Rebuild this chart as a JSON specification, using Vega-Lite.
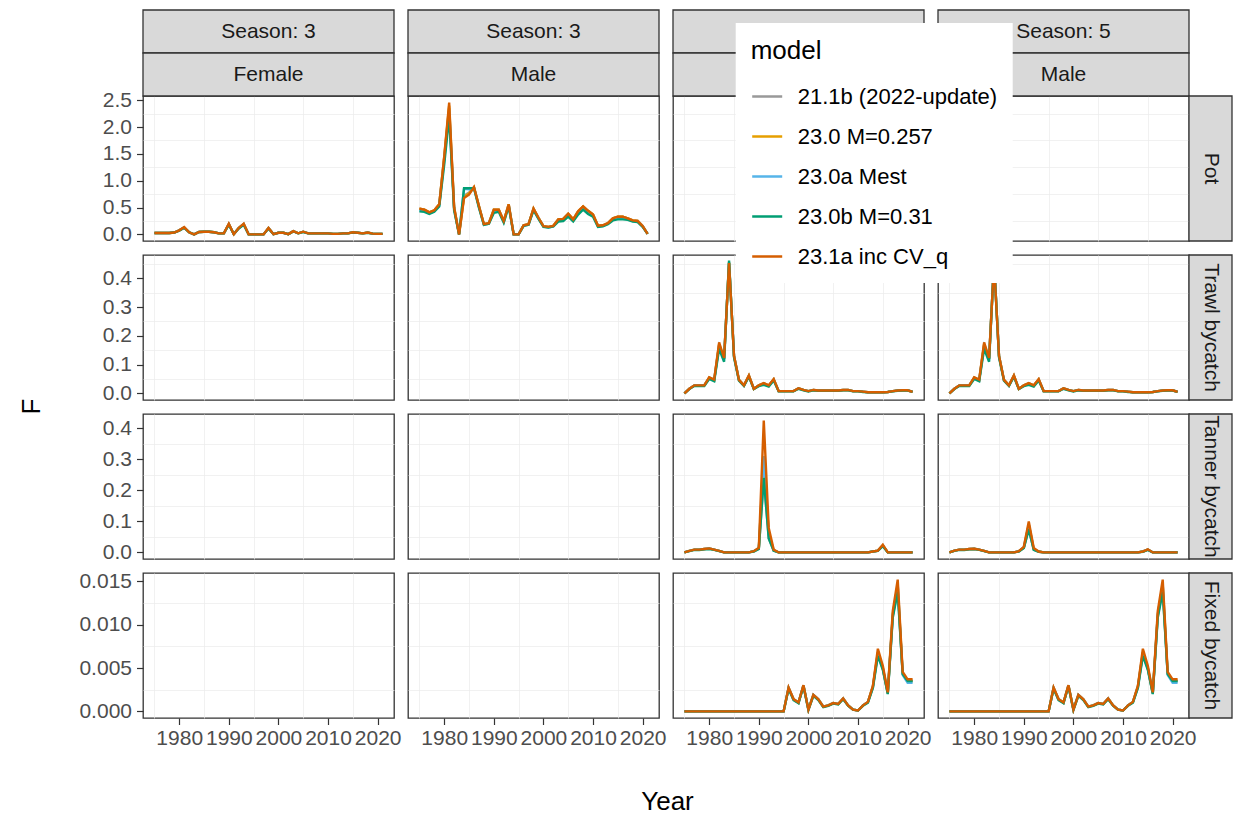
{
"$schema": "https://vega.github.io/schema/vega-lite/v6.json",
"background": "white",
"padding": {"left": 17, "top": 8, "right": 2, "bottom": 2},
"autosize": {"type": "pad"},
"config": {
  "font": "Liberation Sans",
  "view": {"stroke": "#333333", "strokeWidth": 1.3, "fill": "white"},
  "axis": {"domain": false, "gridColor": "#EBEBEB", "labelFontSize": 21, "labelColor": "#4D4D4D", "tickColor": "#333333", "tickSize": 6.5, "tickWidth": 1.2, "labelFont": "Liberation Sans"},
  "axisX": {"labelPadding": 3},
  "axisY": {"labelPadding": 5},
  "range": {"category": ["#999999", "#E69F00", "#56B4E9", "#009E73", "#D55E00"]},
  "legend": {"orient": "none", "legendX": 592.7, "legendY": -73, "fillColor": "#FFFFFF", "padding": 15, "titleFontSize": 26, "titleFontWeight": "normal", "titleColor": "#000000", "titlePadding": 16, "labelFontSize": 22, "labelColor": "#000000", "labelOffset": 14, "labelLimit": 400, "symbolType": "stroke", "symbolSize": 900, "symbolStrokeWidth": 2.5, "rowPadding": 12}
},
"datasets": {
  "models": [{"k":"a","model":"21.1b (2022-update)"},{"k":"b","model":"23.0 M=0.257"},{"k":"c","model":"23.0a Mest"},{"k":"d","model":"23.0b M=0.31"},{"k":"e","model":"23.1a inc CV_q"}],
  "empty": [],
  "s3f_pot": [
    {"x":1975,"a":0.025,"b":0.025,"c":0.025,"d":0.025,"e":0.025},
    {"x":1976,"a":0.025,"b":0.025,"c":0.025,"d":0.025,"e":0.025},
    {"x":1977,"a":0.025,"b":0.025,"c":0.025,"d":0.025,"e":0.025},
    {"x":1978,"a":0.025,"b":0.025,"c":0.025,"d":0.025,"e":0.025},
    {"x":1979,"a":0.035,"b":0.035,"c":0.035,"d":0.035,"e":0.035},
    {"x":1980,"a":0.075,"b":0.075,"c":0.075,"d":0.07,"e":0.075},
    {"x":1981,"a":0.13,"b":0.13,"c":0.13,"d":0.12,"e":0.135},
    {"x":1982,"a":0.04,"b":0.04,"c":0.04,"d":0.04,"e":0.04},
    {"x":1983,"a":0,"b":0,"c":0,"d":0,"e":0},
    {"x":1984,"a":0.045,"b":0.045,"c":0.045,"d":0.045,"e":0.045},
    {"x":1985,"a":0.05,"b":0.05,"c":0.05,"d":0.05,"e":0.05},
    {"x":1986,"a":0.05,"b":0.05,"c":0.05,"d":0.05,"e":0.05},
    {"x":1987,"a":0.04,"b":0.04,"c":0.04,"d":0.04,"e":0.04},
    {"x":1988,"a":0.02,"b":0.02,"c":0.02,"d":0.02,"e":0.02},
    {"x":1989,"a":0.02,"b":0.02,"c":0.02,"d":0.02,"e":0.02},
    {"x":1990,"a":0.19,"b":0.19,"c":0.19,"d":0.18,"e":0.2},
    {"x":1991,"a":0.005,"b":0.005,"c":0.005,"d":0.005,"e":0.005},
    {"x":1992,"a":0.12,"b":0.12,"c":0.115,"d":0.11,"e":0.12},
    {"x":1993,"a":0.19,"b":0.19,"c":0.19,"d":0.18,"e":0.2},
    {"x":1994,"a":0,"b":0,"c":0,"d":0,"e":0},
    {"x":1995,"a":0,"b":0,"c":0,"d":0,"e":0},
    {"x":1996,"a":0,"b":0,"c":0,"d":0,"e":0},
    {"x":1997,"a":0,"b":0,"c":0,"d":0,"e":0},
    {"x":1998,"a":0.12,"b":0.12,"c":0.115,"d":0.11,"e":0.12},
    {"x":1999,"a":0.005,"b":0.005,"c":0.005,"d":0.005,"e":0.005},
    {"x":2000,"a":0.03,"b":0.03,"c":0.03,"d":0.03,"e":0.03},
    {"x":2001,"a":0.03,"b":0.03,"c":0.03,"d":0.03,"e":0.03},
    {"x":2002,"a":0.005,"b":0.005,"c":0.005,"d":0.005,"e":0.005},
    {"x":2003,"a":0.06,"b":0.06,"c":0.06,"d":0.055,"e":0.06},
    {"x":2004,"a":0.02,"b":0.02,"c":0.02,"d":0.02,"e":0.02},
    {"x":2005,"a":0.05,"b":0.05,"c":0.05,"d":0.045,"e":0.05},
    {"x":2006,"a":0.02,"b":0.02,"c":0.02,"d":0.02,"e":0.02},
    {"x":2007,"a":0.02,"b":0.02,"c":0.02,"d":0.02,"e":0.02},
    {"x":2008,"a":0.02,"b":0.02,"c":0.02,"d":0.02,"e":0.02},
    {"x":2009,"a":0.02,"b":0.02,"c":0.02,"d":0.02,"e":0.02},
    {"x":2010,"a":0.02,"b":0.02,"c":0.02,"d":0.02,"e":0.02},
    {"x":2011,"a":0.01,"b":0.01,"c":0.01,"d":0.01,"e":0.01},
    {"x":2012,"a":0.01,"b":0.01,"c":0.01,"d":0.01,"e":0.01},
    {"x":2013,"a":0.02,"b":0.02,"c":0.02,"d":0.02,"e":0.02},
    {"x":2014,"a":0.02,"b":0.02,"c":0.02,"d":0.02,"e":0.02},
    {"x":2015,"a":0.04,"b":0.04,"c":0.04,"d":0.035,"e":0.04},
    {"x":2016,"a":0.03,"b":0.03,"c":0.03,"d":0.03,"e":0.03},
    {"x":2017,"a":0.02,"b":0.02,"c":0.02,"d":0.02,"e":0.02},
    {"x":2018,"a":0.035,"b":0.035,"c":0.035,"d":0.03,"e":0.035},
    {"x":2019,"a":0.015,"b":0.015,"c":0.015,"d":0.015,"e":0.015},
    {"x":2020,"a":0.01,"b":0.01,"c":0.01,"d":0.01,"e":0.01},
    {"x":2021,"a":0.01,"b":0.01,"c":0.01,"d":0.01,"e":0.01}
  ],
  "s3m_pot": [
    {"x":1975,"a":0.48,"b":0.48,"c":0.45,"d":0.43,"e":0.48},
    {"x":1976,"a":0.46,"b":0.46,"c":0.44,"d":0.42,"e":0.46},
    {"x":1977,"a":0.41,"b":0.41,"c":0.39,"d":0.38,"e":0.41},
    {"x":1978,"a":0.45,"b":0.45,"c":0.43,"d":0.42,"e":0.45},
    {"x":1979,"a":0.56,"b":0.56,"c":0.54,"d":0.52,"e":0.56},
    {"x":1980,"a":1.42,"b":1.44,"c":1.38,"d":1.3,"e":1.45},
    {"x":1981,"a":2.35,"b":2.4,"c":2.3,"d":2.2,"e":2.455},
    {"x":1982,"a":0.5,"b":0.5,"c":0.47,"d":0.45,"e":0.5},
    {"x":1983,"a":0,"b":0,"c":0,"d":0,"e":0},
    {"x":1984,"a":0.72,"b":0.7,"c":0.85,"d":0.86,"e":0.68},
    {"x":1985,"a":0.78,"b":0.76,"c":0.84,"d":0.86,"e":0.74},
    {"x":1986,"a":0.88,"b":0.88,"c":0.87,"d":0.86,"e":0.88},
    {"x":1987,"a":0.53,"b":0.53,"c":0.51,"d":0.5,"e":0.53},
    {"x":1988,"a":0.19,"b":0.19,"c":0.18,"d":0.18,"e":0.19},
    {"x":1989,"a":0.21,"b":0.21,"c":0.2,"d":0.2,"e":0.21},
    {"x":1990,"a":0.46,"b":0.46,"c":0.43,"d":0.4,"e":0.46},
    {"x":1991,"a":0.46,"b":0.46,"c":0.44,"d":0.42,"e":0.46},
    {"x":1992,"a":0.25,"b":0.25,"c":0.23,"d":0.22,"e":0.25},
    {"x":1993,"a":0.56,"b":0.56,"c":0.54,"d":0.52,"e":0.56},
    {"x":1994,"a":0,"b":0,"c":0,"d":0,"e":0},
    {"x":1995,"a":0,"b":0,"c":0,"d":0,"e":0},
    {"x":1996,"a":0.17,"b":0.17,"c":0.16,"d":0.16,"e":0.17},
    {"x":1997,"a":0.19,"b":0.19,"c":0.18,"d":0.18,"e":0.19},
    {"x":1998,"a":0.48,"b":0.48,"c":0.46,"d":0.45,"e":0.48},
    {"x":1999,"a":0.31,"b":0.31,"c":0.3,"d":0.29,"e":0.31},
    {"x":2000,"a":0.155,"b":0.155,"c":0.15,"d":0.14,"e":0.155},
    {"x":2001,"a":0.14,"b":0.14,"c":0.13,"d":0.13,"e":0.14},
    {"x":2002,"a":0.16,"b":0.16,"c":0.15,"d":0.15,"e":0.16},
    {"x":2003,"a":0.28,"b":0.28,"c":0.26,"d":0.24,"e":0.28},
    {"x":2004,"a":0.29,"b":0.29,"c":0.27,"d":0.25,"e":0.29},
    {"x":2005,"a":0.385,"b":0.385,"c":0.36,"d":0.33,"e":0.385},
    {"x":2006,"a":0.28,"b":0.28,"c":0.26,"d":0.24,"e":0.28},
    {"x":2007,"a":0.43,"b":0.43,"c":0.4,"d":0.37,"e":0.43},
    {"x":2008,"a":0.52,"b":0.52,"c":0.49,"d":0.46,"e":0.52},
    {"x":2009,"a":0.44,"b":0.44,"c":0.41,"d":0.38,"e":0.44},
    {"x":2010,"a":0.37,"b":0.37,"c":0.35,"d":0.33,"e":0.37},
    {"x":2011,"a":0.16,"b":0.16,"c":0.15,"d":0.14,"e":0.16},
    {"x":2012,"a":0.17,"b":0.17,"c":0.16,"d":0.15,"e":0.17},
    {"x":2013,"a":0.21,"b":0.21,"c":0.2,"d":0.19,"e":0.21},
    {"x":2014,"a":0.3,"b":0.3,"c":0.28,"d":0.26,"e":0.3},
    {"x":2015,"a":0.33,"b":0.33,"c":0.3,"d":0.28,"e":0.33},
    {"x":2016,"a":0.33,"b":0.33,"c":0.3,"d":0.28,"e":0.33},
    {"x":2017,"a":0.3,"b":0.3,"c":0.28,"d":0.27,"e":0.3},
    {"x":2018,"a":0.26,"b":0.26,"c":0.25,"d":0.24,"e":0.26},
    {"x":2019,"a":0.25,"b":0.25,"c":0.24,"d":0.23,"e":0.25},
    {"x":2020,"a":0.155,"b":0.155,"c":0.15,"d":0.14,"e":0.155},
    {"x":2021,"a":0.01,"b":0.01,"c":0.01,"d":0.01,"e":0.01}
  ],
  "s5f_trawl": [
    {"x":1975,"a":0,"b":0,"c":0,"d":0,"e":0},
    {"x":1976,"a":0.016,"b":0.016,"c":0.016,"d":0.015,"e":0.016},
    {"x":1977,"a":0.028,"b":0.028,"c":0.028,"d":0.026,"e":0.028},
    {"x":1978,"a":0.028,"b":0.028,"c":0.028,"d":0.026,"e":0.028},
    {"x":1979,"a":0.028,"b":0.028,"c":0.028,"d":0.026,"e":0.028},
    {"x":1980,"a":0.055,"b":0.055,"c":0.053,"d":0.05,"e":0.056},
    {"x":1981,"a":0.046,"b":0.046,"c":0.045,"d":0.042,"e":0.048},
    {"x":1982,"a":0.17,"b":0.17,"c":0.165,"d":0.155,"e":0.177},
    {"x":1983,"a":0.12,"b":0.12,"c":0.12,"d":0.11,"e":0.123},
    {"x":1984,"a":0.455,"b":0.455,"c":0.455,"d":0.462,"e":0.453},
    {"x":1985,"a":0.13,"b":0.13,"c":0.13,"d":0.125,"e":0.131},
    {"x":1986,"a":0.047,"b":0.047,"c":0.046,"d":0.044,"e":0.047},
    {"x":1987,"a":0.028,"b":0.028,"c":0.027,"d":0.026,"e":0.028},
    {"x":1988,"a":0.062,"b":0.062,"c":0.06,"d":0.058,"e":0.062},
    {"x":1989,"a":0.016,"b":0.016,"c":0.016,"d":0.015,"e":0.016},
    {"x":1990,"a":0.028,"b":0.028,"c":0.027,"d":0.025,"e":0.028},
    {"x":1991,"a":0.035,"b":0.035,"c":0.033,"d":0.03,"e":0.036},
    {"x":1992,"a":0.027,"b":0.027,"c":0.026,"d":0.024,"e":0.028},
    {"x":1993,"a":0.049,"b":0.049,"c":0.047,"d":0.045,"e":0.05},
    {"x":1994,"a":0.008,"b":0.008,"c":0.008,"d":0.007,"e":0.008},
    {"x":1995,"a":0.008,"b":0.008,"c":0.008,"d":0.007,"e":0.008},
    {"x":1996,"a":0.008,"b":0.008,"c":0.008,"d":0.007,"e":0.008},
    {"x":1997,"a":0.008,"b":0.008,"c":0.008,"d":0.007,"e":0.008},
    {"x":1998,"a":0.018,"b":0.018,"c":0.017,"d":0.016,"e":0.018},
    {"x":1999,"a":0.012,"b":0.012,"c":0.012,"d":0.011,"e":0.012},
    {"x":2000,"a":0.008,"b":0.008,"c":0.008,"d":0.007,"e":0.008},
    {"x":2001,"a":0.012,"b":0.012,"c":0.012,"d":0.011,"e":0.012},
    {"x":2002,"a":0.01,"b":0.01,"c":0.01,"d":0.009,"e":0.01},
    {"x":2003,"a":0.01,"b":0.01,"c":0.01,"d":0.009,"e":0.01},
    {"x":2004,"a":0.01,"b":0.01,"c":0.01,"d":0.009,"e":0.01},
    {"x":2005,"a":0.01,"b":0.01,"c":0.01,"d":0.009,"e":0.01},
    {"x":2006,"a":0.01,"b":0.01,"c":0.01,"d":0.009,"e":0.01},
    {"x":2007,"a":0.012,"b":0.012,"c":0.012,"d":0.011,"e":0.012},
    {"x":2008,"a":0.012,"b":0.012,"c":0.012,"d":0.011,"e":0.012},
    {"x":2009,"a":0.008,"b":0.008,"c":0.008,"d":0.007,"e":0.008},
    {"x":2010,"a":0.008,"b":0.008,"c":0.008,"d":0.007,"e":0.008},
    {"x":2011,"a":0.006,"b":0.006,"c":0.006,"d":0.005,"e":0.006},
    {"x":2012,"a":0.004,"b":0.004,"c":0.004,"d":0.004,"e":0.004},
    {"x":2013,"a":0.004,"b":0.004,"c":0.004,"d":0.004,"e":0.004},
    {"x":2014,"a":0.004,"b":0.004,"c":0.004,"d":0.004,"e":0.004},
    {"x":2015,"a":0.004,"b":0.004,"c":0.004,"d":0.004,"e":0.004},
    {"x":2016,"a":0.005,"b":0.005,"c":0.005,"d":0.005,"e":0.005},
    {"x":2017,"a":0.008,"b":0.008,"c":0.008,"d":0.007,"e":0.008},
    {"x":2018,"a":0.01,"b":0.01,"c":0.01,"d":0.009,"e":0.01},
    {"x":2019,"a":0.011,"b":0.011,"c":0.011,"d":0.01,"e":0.011},
    {"x":2020,"a":0.011,"b":0.011,"c":0.011,"d":0.01,"e":0.011},
    {"x":2021,"a":0.005,"b":0.005,"c":0.005,"d":0.005,"e":0.005}
  ],
  "s5m_trawl": [
    {"x":1975,"a":0,"b":0,"c":0,"d":0,"e":0},
    {"x":1976,"a":0.016,"b":0.016,"c":0.016,"d":0.015,"e":0.016},
    {"x":1977,"a":0.028,"b":0.028,"c":0.028,"d":0.026,"e":0.028},
    {"x":1978,"a":0.028,"b":0.028,"c":0.028,"d":0.026,"e":0.028},
    {"x":1979,"a":0.028,"b":0.028,"c":0.028,"d":0.026,"e":0.028},
    {"x":1980,"a":0.055,"b":0.055,"c":0.053,"d":0.05,"e":0.056},
    {"x":1981,"a":0.046,"b":0.046,"c":0.045,"d":0.042,"e":0.048},
    {"x":1982,"a":0.17,"b":0.17,"c":0.165,"d":0.155,"e":0.177},
    {"x":1983,"a":0.12,"b":0.12,"c":0.12,"d":0.11,"e":0.123},
    {"x":1984,"a":0.455,"b":0.455,"c":0.455,"d":0.462,"e":0.453},
    {"x":1985,"a":0.13,"b":0.13,"c":0.13,"d":0.125,"e":0.131},
    {"x":1986,"a":0.047,"b":0.047,"c":0.046,"d":0.044,"e":0.047},
    {"x":1987,"a":0.028,"b":0.028,"c":0.027,"d":0.026,"e":0.028},
    {"x":1988,"a":0.062,"b":0.062,"c":0.06,"d":0.058,"e":0.062},
    {"x":1989,"a":0.016,"b":0.016,"c":0.016,"d":0.015,"e":0.016},
    {"x":1990,"a":0.028,"b":0.028,"c":0.027,"d":0.025,"e":0.028},
    {"x":1991,"a":0.035,"b":0.035,"c":0.033,"d":0.03,"e":0.036},
    {"x":1992,"a":0.027,"b":0.027,"c":0.026,"d":0.024,"e":0.028},
    {"x":1993,"a":0.049,"b":0.049,"c":0.047,"d":0.045,"e":0.05},
    {"x":1994,"a":0.008,"b":0.008,"c":0.008,"d":0.007,"e":0.008},
    {"x":1995,"a":0.008,"b":0.008,"c":0.008,"d":0.007,"e":0.008},
    {"x":1996,"a":0.008,"b":0.008,"c":0.008,"d":0.007,"e":0.008},
    {"x":1997,"a":0.008,"b":0.008,"c":0.008,"d":0.007,"e":0.008},
    {"x":1998,"a":0.018,"b":0.018,"c":0.017,"d":0.016,"e":0.018},
    {"x":1999,"a":0.012,"b":0.012,"c":0.012,"d":0.011,"e":0.012},
    {"x":2000,"a":0.008,"b":0.008,"c":0.008,"d":0.007,"e":0.008},
    {"x":2001,"a":0.012,"b":0.012,"c":0.012,"d":0.011,"e":0.012},
    {"x":2002,"a":0.01,"b":0.01,"c":0.01,"d":0.009,"e":0.01},
    {"x":2003,"a":0.01,"b":0.01,"c":0.01,"d":0.009,"e":0.01},
    {"x":2004,"a":0.01,"b":0.01,"c":0.01,"d":0.009,"e":0.01},
    {"x":2005,"a":0.01,"b":0.01,"c":0.01,"d":0.009,"e":0.01},
    {"x":2006,"a":0.01,"b":0.01,"c":0.01,"d":0.009,"e":0.01},
    {"x":2007,"a":0.012,"b":0.012,"c":0.012,"d":0.011,"e":0.012},
    {"x":2008,"a":0.012,"b":0.012,"c":0.012,"d":0.011,"e":0.012},
    {"x":2009,"a":0.008,"b":0.008,"c":0.008,"d":0.007,"e":0.008},
    {"x":2010,"a":0.008,"b":0.008,"c":0.008,"d":0.007,"e":0.008},
    {"x":2011,"a":0.006,"b":0.006,"c":0.006,"d":0.005,"e":0.006},
    {"x":2012,"a":0.004,"b":0.004,"c":0.004,"d":0.004,"e":0.004},
    {"x":2013,"a":0.004,"b":0.004,"c":0.004,"d":0.004,"e":0.004},
    {"x":2014,"a":0.004,"b":0.004,"c":0.004,"d":0.004,"e":0.004},
    {"x":2015,"a":0.004,"b":0.004,"c":0.004,"d":0.004,"e":0.004},
    {"x":2016,"a":0.005,"b":0.005,"c":0.005,"d":0.005,"e":0.005},
    {"x":2017,"a":0.008,"b":0.008,"c":0.008,"d":0.007,"e":0.008},
    {"x":2018,"a":0.01,"b":0.01,"c":0.01,"d":0.009,"e":0.01},
    {"x":2019,"a":0.011,"b":0.011,"c":0.011,"d":0.01,"e":0.011},
    {"x":2020,"a":0.011,"b":0.011,"c":0.011,"d":0.01,"e":0.011},
    {"x":2021,"a":0.005,"b":0.005,"c":0.005,"d":0.005,"e":0.005}
  ],
  "s5f_tanner": [
    {"x":1975,"a":0,"b":0,"c":0,"d":0,"e":0},
    {"x":1976,"a":0.005,"b":0.005,"c":0.005,"d":0.004,"e":0.005},
    {"x":1977,"a":0.009,"b":0.009,"c":0.009,"d":0.008,"e":0.009},
    {"x":1978,"a":0.009,"b":0.009,"c":0.009,"d":0.008,"e":0.009},
    {"x":1979,"a":0.011,"b":0.011,"c":0.011,"d":0.01,"e":0.011},
    {"x":1980,"a":0.013,"b":0.013,"c":0.013,"d":0.011,"e":0.013},
    {"x":1981,"a":0.009,"b":0.009,"c":0.009,"d":0.008,"e":0.009},
    {"x":1982,"a":0.005,"b":0.005,"c":0.005,"d":0.004,"e":0.005},
    {"x":1983,"a":0,"b":0,"c":0,"d":0,"e":0},
    {"x":1984,"a":0,"b":0,"c":0,"d":0,"e":0},
    {"x":1985,"a":0,"b":0,"c":0,"d":0,"e":0},
    {"x":1986,"a":0,"b":0,"c":0,"d":0,"e":0},
    {"x":1987,"a":0,"b":0,"c":0,"d":0,"e":0},
    {"x":1988,"a":0,"b":0,"c":0,"d":0,"e":0},
    {"x":1989,"a":0.004,"b":0.004,"c":0.004,"d":0.003,"e":0.004},
    {"x":1990,"a":0.012,"b":0.013,"c":0.013,"d":0.011,"e":0.015},
    {"x":1991,"a":0.24,"b":0.31,"c":0.31,"d":0.24,"e":0.425},
    {"x":1992,"a":0.045,"b":0.06,"c":0.06,"d":0.045,"e":0.079},
    {"x":1993,"a":0.006,"b":0.007,"c":0.007,"d":0.005,"e":0.009},
    {"x":1994,"a":0,"b":0,"c":0,"d":0,"e":0},
    {"x":1995,"a":0,"b":0,"c":0,"d":0,"e":0},
    {"x":1996,"a":0,"b":0,"c":0,"d":0,"e":0},
    {"x":1997,"a":0,"b":0,"c":0,"d":0,"e":0},
    {"x":1998,"a":0,"b":0,"c":0,"d":0,"e":0},
    {"x":1999,"a":0,"b":0,"c":0,"d":0,"e":0},
    {"x":2000,"a":0,"b":0,"c":0,"d":0,"e":0},
    {"x":2001,"a":0,"b":0,"c":0,"d":0,"e":0},
    {"x":2002,"a":0,"b":0,"c":0,"d":0,"e":0},
    {"x":2003,"a":0,"b":0,"c":0,"d":0,"e":0},
    {"x":2004,"a":0,"b":0,"c":0,"d":0,"e":0},
    {"x":2005,"a":0,"b":0,"c":0,"d":0,"e":0},
    {"x":2006,"a":0,"b":0,"c":0,"d":0,"e":0},
    {"x":2007,"a":0,"b":0,"c":0,"d":0,"e":0},
    {"x":2008,"a":0,"b":0,"c":0,"d":0,"e":0},
    {"x":2009,"a":0,"b":0,"c":0,"d":0,"e":0},
    {"x":2010,"a":0,"b":0,"c":0,"d":0,"e":0},
    {"x":2011,"a":0,"b":0,"c":0,"d":0,"e":0},
    {"x":2012,"a":0,"b":0,"c":0,"d":0,"e":0},
    {"x":2013,"a":0.003,"b":0.003,"c":0.003,"d":0.003,"e":0.003},
    {"x":2014,"a":0.006,"b":0.006,"c":0.006,"d":0.005,"e":0.006},
    {"x":2015,"a":0.022,"b":0.023,"c":0.023,"d":0.02,"e":0.025},
    {"x":2016,"a":0,"b":0,"c":0,"d":0,"e":0},
    {"x":2017,"a":0,"b":0,"c":0,"d":0,"e":0},
    {"x":2018,"a":0,"b":0,"c":0,"d":0,"e":0},
    {"x":2019,"a":0,"b":0,"c":0,"d":0,"e":0},
    {"x":2020,"a":0,"b":0,"c":0,"d":0,"e":0},
    {"x":2021,"a":0,"b":0,"c":0,"d":0,"e":0}
  ],
  "s5m_tanner": [
    {"x":1975,"a":0,"b":0,"c":0,"d":0,"e":0},
    {"x":1976,"a":0.006,"b":0.006,"c":0.006,"d":0.005,"e":0.006},
    {"x":1977,"a":0.009,"b":0.009,"c":0.009,"d":0.008,"e":0.009},
    {"x":1978,"a":0.009,"b":0.009,"c":0.009,"d":0.008,"e":0.009},
    {"x":1979,"a":0.011,"b":0.011,"c":0.011,"d":0.01,"e":0.011},
    {"x":1980,"a":0.012,"b":0.012,"c":0.012,"d":0.011,"e":0.012},
    {"x":1981,"a":0.009,"b":0.009,"c":0.009,"d":0.008,"e":0.009},
    {"x":1982,"a":0.005,"b":0.005,"c":0.005,"d":0.004,"e":0.005},
    {"x":1983,"a":0,"b":0,"c":0,"d":0,"e":0},
    {"x":1984,"a":0,"b":0,"c":0,"d":0,"e":0},
    {"x":1985,"a":0,"b":0,"c":0,"d":0,"e":0},
    {"x":1986,"a":0,"b":0,"c":0,"d":0,"e":0},
    {"x":1987,"a":0,"b":0,"c":0,"d":0,"e":0},
    {"x":1988,"a":0,"b":0,"c":0,"d":0,"e":0},
    {"x":1989,"a":0.004,"b":0.004,"c":0.004,"d":0.003,"e":0.004},
    {"x":1990,"a":0.015,"b":0.016,"c":0.016,"d":0.014,"e":0.018},
    {"x":1991,"a":0.075,"b":0.09,"c":0.09,"d":0.075,"e":0.1},
    {"x":1992,"a":0.009,"b":0.011,"c":0.011,"d":0.008,"e":0.014},
    {"x":1993,"a":0.002,"b":0.003,"c":0.003,"d":0.002,"e":0.003},
    {"x":1994,"a":0,"b":0,"c":0,"d":0,"e":0},
    {"x":1995,"a":0,"b":0,"c":0,"d":0,"e":0},
    {"x":1996,"a":0,"b":0,"c":0,"d":0,"e":0},
    {"x":1997,"a":0,"b":0,"c":0,"d":0,"e":0},
    {"x":1998,"a":0,"b":0,"c":0,"d":0,"e":0},
    {"x":1999,"a":0,"b":0,"c":0,"d":0,"e":0},
    {"x":2000,"a":0,"b":0,"c":0,"d":0,"e":0},
    {"x":2001,"a":0,"b":0,"c":0,"d":0,"e":0},
    {"x":2002,"a":0,"b":0,"c":0,"d":0,"e":0},
    {"x":2003,"a":0,"b":0,"c":0,"d":0,"e":0},
    {"x":2004,"a":0,"b":0,"c":0,"d":0,"e":0},
    {"x":2005,"a":0,"b":0,"c":0,"d":0,"e":0},
    {"x":2006,"a":0,"b":0,"c":0,"d":0,"e":0},
    {"x":2007,"a":0,"b":0,"c":0,"d":0,"e":0},
    {"x":2008,"a":0,"b":0,"c":0,"d":0,"e":0},
    {"x":2009,"a":0,"b":0,"c":0,"d":0,"e":0},
    {"x":2010,"a":0,"b":0,"c":0,"d":0,"e":0},
    {"x":2011,"a":0,"b":0,"c":0,"d":0,"e":0},
    {"x":2012,"a":0,"b":0,"c":0,"d":0,"e":0},
    {"x":2013,"a":0,"b":0,"c":0,"d":0,"e":0},
    {"x":2014,"a":0.003,"b":0.003,"c":0.003,"d":0.002,"e":0.003},
    {"x":2015,"a":0.009,"b":0.009,"c":0.009,"d":0.008,"e":0.01},
    {"x":2016,"a":0,"b":0,"c":0,"d":0,"e":0},
    {"x":2017,"a":0,"b":0,"c":0,"d":0,"e":0},
    {"x":2018,"a":0,"b":0,"c":0,"d":0,"e":0},
    {"x":2019,"a":0,"b":0,"c":0,"d":0,"e":0},
    {"x":2020,"a":0,"b":0,"c":0,"d":0,"e":0},
    {"x":2021,"a":0,"b":0,"c":0,"d":0,"e":0}
  ],
  "s5f_fixed": [
    {"x":1975,"a":0,"b":0,"c":0,"d":0,"e":0},
    {"x":1976,"a":0,"b":0,"c":0,"d":0,"e":0},
    {"x":1977,"a":0,"b":0,"c":0,"d":0,"e":0},
    {"x":1978,"a":0,"b":0,"c":0,"d":0,"e":0},
    {"x":1979,"a":0,"b":0,"c":0,"d":0,"e":0},
    {"x":1980,"a":0,"b":0,"c":0,"d":0,"e":0},
    {"x":1981,"a":0,"b":0,"c":0,"d":0,"e":0},
    {"x":1982,"a":0,"b":0,"c":0,"d":0,"e":0},
    {"x":1983,"a":0,"b":0,"c":0,"d":0,"e":0},
    {"x":1984,"a":0,"b":0,"c":0,"d":0,"e":0},
    {"x":1985,"a":0,"b":0,"c":0,"d":0,"e":0},
    {"x":1986,"a":0,"b":0,"c":0,"d":0,"e":0},
    {"x":1987,"a":0,"b":0,"c":0,"d":0,"e":0},
    {"x":1988,"a":0,"b":0,"c":0,"d":0,"e":0},
    {"x":1989,"a":0,"b":0,"c":0,"d":0,"e":0},
    {"x":1990,"a":0,"b":0,"c":0,"d":0,"e":0},
    {"x":1991,"a":0,"b":0,"c":0,"d":0,"e":0},
    {"x":1992,"a":0,"b":0,"c":0,"d":0,"e":0},
    {"x":1993,"a":0,"b":0,"c":0,"d":0,"e":0},
    {"x":1994,"a":0,"b":0,"c":0,"d":0,"e":0},
    {"x":1995,"a":0,"b":0,"c":0,"d":0,"e":0},
    {"x":1996,"a":0.0027,"b":0.0027,"c":0.0027,"d":0.0026,"e":0.00276},
    {"x":1997,"a":0.0014,"b":0.0014,"c":0.0014,"d":0.0013,"e":0.00142},
    {"x":1998,"a":0.001,"b":0.001,"c":0.001,"d":0.00095,"e":0.00104},
    {"x":1999,"a":0.003,"b":0.003,"c":0.003,"d":0.0029,"e":0.00303},
    {"x":2000,"a":0.0002,"b":0.0002,"c":0.0002,"d":0.0002,"e":0.0002},
    {"x":2001,"a":0.0019,"b":0.0019,"c":0.0019,"d":0.0018,"e":0.0019},
    {"x":2002,"a":0.0014,"b":0.0014,"c":0.0014,"d":0.0013,"e":0.0014},
    {"x":2003,"a":0.00054,"b":0.00054,"c":0.00054,"d":0.0005,"e":0.00054},
    {"x":2004,"a":0.0007,"b":0.0007,"c":0.0007,"d":0.00065,"e":0.0007},
    {"x":2005,"a":0.00096,"b":0.00096,"c":0.00096,"d":0.0009,"e":0.00096},
    {"x":2006,"a":0.00085,"b":0.00085,"c":0.00085,"d":0.0008,"e":0.00085},
    {"x":2007,"a":0.0015,"b":0.0015,"c":0.0015,"d":0.0014,"e":0.0015},
    {"x":2008,"a":0.0007,"b":0.0007,"c":0.0007,"d":0.00065,"e":0.0007},
    {"x":2009,"a":0.0002,"b":0.0002,"c":0.0002,"d":0.0002,"e":0.0002},
    {"x":2010,"a":0.0001,"b":0.0001,"c":0.0001,"d":0.0001,"e":0.0001},
    {"x":2011,"a":0.0007,"b":0.0007,"c":0.0007,"d":0.00065,"e":0.0007},
    {"x":2012,"a":0.0011,"b":0.0011,"c":0.0011,"d":0.001,"e":0.0011},
    {"x":2013,"a":0.0029,"b":0.0029,"c":0.0028,"d":0.0027,"e":0.00295},
    {"x":2014,"a":0.0066,"b":0.0068,"c":0.0068,"d":0.0064,"e":0.00723},
    {"x":2015,"a":0.0049,"b":0.005,"c":0.005,"d":0.0048,"e":0.00525},
    {"x":2016,"a":0.0021,"b":0.0021,"c":0.0021,"d":0.002,"e":0.0022},
    {"x":2017,"a":0.011,"b":0.0112,"c":0.0111,"d":0.0108,"e":0.01156},
    {"x":2018,"a":0.014,"b":0.0146,"c":0.0146,"d":0.0138,"e":0.0152},
    {"x":2019,"a":0.0044,"b":0.0044,"c":0.0042,"d":0.0043,"e":0.00456},
    {"x":2020,"a":0.0035,"b":0.0035,"c":0.0033,"d":0.0035,"e":0.0037},
    {"x":2021,"a":0.0035,"b":0.0035,"c":0.0033,"d":0.0035,"e":0.0037}
  ],
  "s5m_fixed": [
    {"x":1975,"a":0,"b":0,"c":0,"d":0,"e":0},
    {"x":1976,"a":0,"b":0,"c":0,"d":0,"e":0},
    {"x":1977,"a":0,"b":0,"c":0,"d":0,"e":0},
    {"x":1978,"a":0,"b":0,"c":0,"d":0,"e":0},
    {"x":1979,"a":0,"b":0,"c":0,"d":0,"e":0},
    {"x":1980,"a":0,"b":0,"c":0,"d":0,"e":0},
    {"x":1981,"a":0,"b":0,"c":0,"d":0,"e":0},
    {"x":1982,"a":0,"b":0,"c":0,"d":0,"e":0},
    {"x":1983,"a":0,"b":0,"c":0,"d":0,"e":0},
    {"x":1984,"a":0,"b":0,"c":0,"d":0,"e":0},
    {"x":1985,"a":0,"b":0,"c":0,"d":0,"e":0},
    {"x":1986,"a":0,"b":0,"c":0,"d":0,"e":0},
    {"x":1987,"a":0,"b":0,"c":0,"d":0,"e":0},
    {"x":1988,"a":0,"b":0,"c":0,"d":0,"e":0},
    {"x":1989,"a":0,"b":0,"c":0,"d":0,"e":0},
    {"x":1990,"a":0,"b":0,"c":0,"d":0,"e":0},
    {"x":1991,"a":0,"b":0,"c":0,"d":0,"e":0},
    {"x":1992,"a":0,"b":0,"c":0,"d":0,"e":0},
    {"x":1993,"a":0,"b":0,"c":0,"d":0,"e":0},
    {"x":1994,"a":0,"b":0,"c":0,"d":0,"e":0},
    {"x":1995,"a":0,"b":0,"c":0,"d":0,"e":0},
    {"x":1996,"a":0.0027,"b":0.0027,"c":0.0027,"d":0.0026,"e":0.00276},
    {"x":1997,"a":0.0014,"b":0.0014,"c":0.0014,"d":0.0013,"e":0.00142},
    {"x":1998,"a":0.001,"b":0.001,"c":0.001,"d":0.00095,"e":0.00104},
    {"x":1999,"a":0.003,"b":0.003,"c":0.003,"d":0.0029,"e":0.00303},
    {"x":2000,"a":0.0002,"b":0.0002,"c":0.0002,"d":0.0002,"e":0.0002},
    {"x":2001,"a":0.0019,"b":0.0019,"c":0.0019,"d":0.0018,"e":0.0019},
    {"x":2002,"a":0.0014,"b":0.0014,"c":0.0014,"d":0.0013,"e":0.0014},
    {"x":2003,"a":0.00054,"b":0.00054,"c":0.00054,"d":0.0005,"e":0.00054},
    {"x":2004,"a":0.0007,"b":0.0007,"c":0.0007,"d":0.00065,"e":0.0007},
    {"x":2005,"a":0.00096,"b":0.00096,"c":0.00096,"d":0.0009,"e":0.00096},
    {"x":2006,"a":0.00085,"b":0.00085,"c":0.00085,"d":0.0008,"e":0.00085},
    {"x":2007,"a":0.0015,"b":0.0015,"c":0.0015,"d":0.0014,"e":0.0015},
    {"x":2008,"a":0.0007,"b":0.0007,"c":0.0007,"d":0.00065,"e":0.0007},
    {"x":2009,"a":0.0002,"b":0.0002,"c":0.0002,"d":0.0002,"e":0.0002},
    {"x":2010,"a":0.0001,"b":0.0001,"c":0.0001,"d":0.0001,"e":0.0001},
    {"x":2011,"a":0.0007,"b":0.0007,"c":0.0007,"d":0.00065,"e":0.0007},
    {"x":2012,"a":0.0011,"b":0.0011,"c":0.0011,"d":0.001,"e":0.0011},
    {"x":2013,"a":0.0029,"b":0.0029,"c":0.0028,"d":0.0027,"e":0.00295},
    {"x":2014,"a":0.0066,"b":0.0068,"c":0.0068,"d":0.0064,"e":0.00723},
    {"x":2015,"a":0.0049,"b":0.005,"c":0.005,"d":0.0048,"e":0.00525},
    {"x":2016,"a":0.0021,"b":0.0021,"c":0.0021,"d":0.002,"e":0.0022},
    {"x":2017,"a":0.011,"b":0.0112,"c":0.0111,"d":0.0108,"e":0.01156},
    {"x":2018,"a":0.014,"b":0.0146,"c":0.0146,"d":0.0138,"e":0.0152},
    {"x":2019,"a":0.0044,"b":0.0044,"c":0.0042,"d":0.0043,"e":0.00456},
    {"x":2020,"a":0.0035,"b":0.0035,"c":0.0033,"d":0.0035,"e":0.0037},
    {"x":2021,"a":0.0035,"b":0.0035,"c":0.0033,"d":0.0035,"e":0.0037}
  ]
},
"columns": 4,
"spacing": 14,
"bounds": "flush",
"concat": [
  {"width":251,"height":145,"data":{"name":"s3f_pot"},
   "layer":[
    {"mark":{"type":"point","opacity":0},"encoding":{
      "x":{"field":"x","type":"quantitative","scale":{"domain":[1972.7,2023.3],"nice":false,"zero":false},"axis":{"values":[1975,1985,1995,2005,2015],"labels":false,"ticks":false,"gridWidth":0.7,"title":null,"orient":"bottom"}},
      "y":{"field":"e","type":"quantitative","scale":{"domain":[-0.1228,2.578],"nice":false,"zero":false},"axis":{"values":[0.25,0.75,1.25,1.75,2.25],"labels":false,"ticks":false,"gridWidth":0.7,"title":null,"orient":"left"}}}},
    {"transform":[{"fold":["a","b","c","d","e"],"as":["k","F"]},{"lookup":"k","from":{"data":{"name":"models"},"key":"k","fields":["model"]}}],
     "mark":{"type":"line","strokeWidth":2.4},"encoding":{
      "x":{"field":"x","type":"quantitative","scale":{"domain":[1972.7,2023.3],"nice":false,"zero":false},"axis":{"values":[1980,1990,2000,2010,2020],"labels":false,"ticks":false,"gridWidth":1.4,"title":null,"orient":"bottom"}},
      "y":{"field":"F","type":"quantitative","scale":{"domain":[-0.1228,2.578],"nice":false,"zero":false},"axis":{"values":[0,0.5,1,1.5,2,2.5],"format":".1f","labelOverlap":false,"gridWidth":1.4,"title":null,"orient":"left"}},
      "color":{"field":"model","type":"nominal"}}},
    {"data":{"values":[{"lvl":"a","t":"Season: 3"},{"lvl":"b","t":"Female"}]},"layer":[
      {"mark":{"type":"rect","fill":"#D9D9D9","stroke":"#333333","strokeWidth":1.3},"encoding":{"y":{"field":"lvl","type":"nominal","scale":{"type":"band","range":[-86,0],"paddingInner":0,"paddingOuter":0},"axis":null}}},
      {"mark":{"type":"text","fontSize":21,"color":"#1A1A1A"},"encoding":{"y":{"field":"lvl","type":"nominal","scale":{"type":"band","range":[-86,0],"paddingInner":0,"paddingOuter":0},"axis":null},"text":{"field":"t"}}}]}
   ],
   "resolve":{"scale":{"x":"independent","y":"independent"}}},
  {"width":251,"height":145,"data":{"name":"s3m_pot"},
   "layer":[
    {"mark":{"type":"point","opacity":0},"encoding":{
      "x":{"field":"x","type":"quantitative","scale":{"domain":[1972.7,2023.3],"nice":false,"zero":false},"axis":{"values":[1975,1985,1995,2005,2015],"labels":false,"ticks":false,"gridWidth":0.7,"title":null,"orient":"bottom"}},
      "y":{"field":"e","type":"quantitative","scale":{"domain":[-0.1228,2.578],"nice":false,"zero":false},"axis":{"values":[0.25,0.75,1.25,1.75,2.25],"labels":false,"ticks":false,"gridWidth":0.7,"title":null,"orient":"left"}}}},
    {"transform":[{"fold":["a","b","c","d","e"],"as":["k","F"]},{"lookup":"k","from":{"data":{"name":"models"},"key":"k","fields":["model"]}}],
     "mark":{"type":"line","strokeWidth":2.4},"encoding":{
      "x":{"field":"x","type":"quantitative","scale":{"domain":[1972.7,2023.3],"nice":false,"zero":false},"axis":{"values":[1980,1990,2000,2010,2020],"labels":false,"ticks":false,"gridWidth":1.4,"title":null,"orient":"bottom"}},
      "y":{"field":"F","type":"quantitative","scale":{"domain":[-0.1228,2.578],"nice":false,"zero":false},"axis":{"values":[0,0.5,1,1.5,2,2.5],"labels":false,"ticks":false,"gridWidth":1.4,"title":null,"orient":"left"}},
      "color":{"field":"model","type":"nominal"}}},
    {"data":{"values":[{"lvl":"a","t":"Season: 3"},{"lvl":"b","t":"Male"}]},"layer":[
      {"mark":{"type":"rect","fill":"#D9D9D9","stroke":"#333333","strokeWidth":1.3},"encoding":{"y":{"field":"lvl","type":"nominal","scale":{"type":"band","range":[-86,0],"paddingInner":0,"paddingOuter":0},"axis":null}}},
      {"mark":{"type":"text","fontSize":21,"color":"#1A1A1A"},"encoding":{"y":{"field":"lvl","type":"nominal","scale":{"type":"band","range":[-86,0],"paddingInner":0,"paddingOuter":0},"axis":null},"text":{"field":"t"}}}]}
   ],
   "resolve":{"scale":{"x":"independent","y":"independent"}}},
  {"width":251,"height":145,"data":{"name":"empty"},
   "layer":[
    {"mark":{"type":"point","opacity":0},"encoding":{
      "x":{"field":"x","type":"quantitative","scale":{"domain":[1972.7,2023.3],"nice":false,"zero":false},"axis":{"values":[1975,1985,1995,2005,2015],"labels":false,"ticks":false,"gridWidth":0.7,"title":null,"orient":"bottom"}},
      "y":{"field":"e","type":"quantitative","scale":{"domain":[-0.1228,2.578],"nice":false,"zero":false},"axis":{"values":[0.25,0.75,1.25,1.75,2.25],"labels":false,"ticks":false,"gridWidth":0.7,"title":null,"orient":"left"}}}},
    {"mark":{"type":"point","opacity":0},"encoding":{
      "x":{"field":"x","type":"quantitative","scale":{"domain":[1972.7,2023.3],"nice":false,"zero":false},"axis":{"values":[1980,1990,2000,2010,2020],"labels":false,"ticks":false,"gridWidth":1.4,"title":null,"orient":"bottom"}},
      "y":{"field":"e","type":"quantitative","scale":{"domain":[-0.1228,2.578],"nice":false,"zero":false},"axis":{"values":[0,0.5,1,1.5,2,2.5],"labels":false,"ticks":false,"gridWidth":1.4,"title":null,"orient":"left"}}}},
    {"data":{"values":[{"lvl":"a","t":"Season: 5"},{"lvl":"b","t":"Female"}]},"layer":[
      {"mark":{"type":"rect","fill":"#D9D9D9","stroke":"#333333","strokeWidth":1.3},"encoding":{"y":{"field":"lvl","type":"nominal","scale":{"type":"band","range":[-86,0],"paddingInner":0,"paddingOuter":0},"axis":null}}},
      {"mark":{"type":"text","fontSize":21,"color":"#1A1A1A"},"encoding":{"y":{"field":"lvl","type":"nominal","scale":{"type":"band","range":[-86,0],"paddingInner":0,"paddingOuter":0},"axis":null},"text":{"field":"t"}}}]}
   ],
   "resolve":{"scale":{"x":"independent","y":"independent"}}},
  {"width":251,"height":145,"data":{"name":"empty"},
   "layer":[
    {"mark":{"type":"point","opacity":0},"encoding":{
      "x":{"field":"x","type":"quantitative","scale":{"domain":[1972.7,2023.3],"nice":false,"zero":false},"axis":{"values":[1975,1985,1995,2005,2015],"labels":false,"ticks":false,"gridWidth":0.7,"title":null,"orient":"bottom"}},
      "y":{"field":"e","type":"quantitative","scale":{"domain":[-0.1228,2.578],"nice":false,"zero":false},"axis":{"values":[0.25,0.75,1.25,1.75,2.25],"labels":false,"ticks":false,"gridWidth":0.7,"title":null,"orient":"left"}}}},
    {"mark":{"type":"point","opacity":0},"encoding":{
      "x":{"field":"x","type":"quantitative","scale":{"domain":[1972.7,2023.3],"nice":false,"zero":false},"axis":{"values":[1980,1990,2000,2010,2020],"labels":false,"ticks":false,"gridWidth":1.4,"title":null,"orient":"bottom"}},
      "y":{"field":"e","type":"quantitative","scale":{"domain":[-0.1228,2.578],"nice":false,"zero":false},"axis":{"values":[0,0.5,1,1.5,2,2.5],"labels":false,"ticks":false,"gridWidth":1.4,"title":null,"orient":"left"}}}},
    {"data":{"values":[{"lvl":"a","t":"Season: 5"},{"lvl":"b","t":"Male"}]},"layer":[
      {"mark":{"type":"rect","fill":"#D9D9D9","stroke":"#333333","strokeWidth":1.3},"encoding":{"y":{"field":"lvl","type":"nominal","scale":{"type":"band","range":[-86,0],"paddingInner":0,"paddingOuter":0},"axis":null}}},
      {"mark":{"type":"text","fontSize":21,"color":"#1A1A1A"},"encoding":{"y":{"field":"lvl","type":"nominal","scale":{"type":"band","range":[-86,0],"paddingInner":0,"paddingOuter":0},"axis":null},"text":{"field":"t"}}}]},
    {"data":{"values":[{"lab":"Pot"}]},"layer":[
      {"mark":{"type":"rect","fill":"#D9D9D9","stroke":"#333333","strokeWidth":1.3},"encoding":{"x":{"field":"lab","type":"nominal","scale":{"type":"band","range":[251,294],"paddingInner":0,"paddingOuter":0},"axis":null}}},
      {"mark":{"type":"text","fontSize":21,"color":"#1A1A1A","angle":90,"limit":143,"ellipsis":""},"encoding":{"x":{"field":"lab","type":"nominal","scale":{"type":"band","range":[251,294],"paddingInner":0,"paddingOuter":0},"axis":null},"text":{"field":"lab"}}}]}
   ],
   "resolve":{"scale":{"x":"independent","y":"independent"}}},

  {"width":251,"height":145,"data":{"name":"empty"},
   "layer":[
    {"mark":{"type":"point","opacity":0},"encoding":{
      "x":{"field":"x","type":"quantitative","scale":{"domain":[1972.7,2023.3],"nice":false,"zero":false},"axis":{"values":[1975,1985,1995,2005,2015],"labels":false,"ticks":false,"gridWidth":0.7,"title":null,"orient":"bottom"}},
      "y":{"field":"e","type":"quantitative","scale":{"domain":[-0.0229,0.4809],"nice":false,"zero":false},"axis":{"values":[0.05,0.15,0.25,0.35,0.45],"labels":false,"ticks":false,"gridWidth":0.7,"title":null,"orient":"left"}}}},
    {"mark":{"type":"point","opacity":0},"encoding":{
      "x":{"field":"x","type":"quantitative","scale":{"domain":[1972.7,2023.3],"nice":false,"zero":false},"axis":{"values":[1980,1990,2000,2010,2020],"labels":false,"ticks":false,"gridWidth":1.4,"title":null,"orient":"bottom"}},
      "y":{"field":"e","type":"quantitative","scale":{"domain":[-0.0229,0.4809],"nice":false,"zero":false},"axis":{"values":[0,0.1,0.2,0.3,0.4],"format":".1f","labelOverlap":false,"gridWidth":1.4,"orient":"left","title":"F","titleX":-112,"titleY":151,"titleAngle":-90,"titleFontSize":26,"titleFontWeight":"normal","titleColor":"#000000","titleBaseline":"middle","titleAlign":"center"}}}}
   ],
   "resolve":{"scale":{"x":"independent","y":"independent"}}},
  {"width":251,"height":145,"data":{"name":"empty"},
   "layer":[
    {"mark":{"type":"point","opacity":0},"encoding":{
      "x":{"field":"x","type":"quantitative","scale":{"domain":[1972.7,2023.3],"nice":false,"zero":false},"axis":{"values":[1975,1985,1995,2005,2015],"labels":false,"ticks":false,"gridWidth":0.7,"title":null,"orient":"bottom"}},
      "y":{"field":"e","type":"quantitative","scale":{"domain":[-0.0229,0.4809],"nice":false,"zero":false},"axis":{"values":[0.05,0.15,0.25,0.35,0.45],"labels":false,"ticks":false,"gridWidth":0.7,"title":null,"orient":"left"}}}},
    {"mark":{"type":"point","opacity":0},"encoding":{
      "x":{"field":"x","type":"quantitative","scale":{"domain":[1972.7,2023.3],"nice":false,"zero":false},"axis":{"values":[1980,1990,2000,2010,2020],"labels":false,"ticks":false,"gridWidth":1.4,"title":null,"orient":"bottom"}},
      "y":{"field":"e","type":"quantitative","scale":{"domain":[-0.0229,0.4809],"nice":false,"zero":false},"axis":{"values":[0,0.1,0.2,0.3,0.4],"labels":false,"ticks":false,"gridWidth":1.4,"title":null,"orient":"left"}}}}
   ],
   "resolve":{"scale":{"x":"independent","y":"independent"}}},
  {"width":251,"height":145,"data":{"name":"s5f_trawl"},
   "layer":[
    {"mark":{"type":"point","opacity":0},"encoding":{
      "x":{"field":"x","type":"quantitative","scale":{"domain":[1972.7,2023.3],"nice":false,"zero":false},"axis":{"values":[1975,1985,1995,2005,2015],"labels":false,"ticks":false,"gridWidth":0.7,"title":null,"orient":"bottom"}},
      "y":{"field":"e","type":"quantitative","scale":{"domain":[-0.0229,0.4809],"nice":false,"zero":false},"axis":{"values":[0.05,0.15,0.25,0.35,0.45],"labels":false,"ticks":false,"gridWidth":0.7,"title":null,"orient":"left"}}}},
    {"transform":[{"fold":["a","b","c","d","e"],"as":["k","F"]},{"lookup":"k","from":{"data":{"name":"models"},"key":"k","fields":["model"]}}],
     "mark":{"type":"line","strokeWidth":2.4},"encoding":{
      "x":{"field":"x","type":"quantitative","scale":{"domain":[1972.7,2023.3],"nice":false,"zero":false},"axis":{"values":[1980,1990,2000,2010,2020],"labels":false,"ticks":false,"gridWidth":1.4,"title":null,"orient":"bottom"}},
      "y":{"field":"F","type":"quantitative","scale":{"domain":[-0.0229,0.4809],"nice":false,"zero":false},"axis":{"values":[0,0.1,0.2,0.3,0.4],"labels":false,"ticks":false,"gridWidth":1.4,"title":null,"orient":"left"}},
      "color":{"field":"model","type":"nominal"}}}
   ],
   "resolve":{"scale":{"x":"independent","y":"independent"}}},
  {"width":251,"height":145,"data":{"name":"s5m_trawl"},
   "layer":[
    {"mark":{"type":"point","opacity":0},"encoding":{
      "x":{"field":"x","type":"quantitative","scale":{"domain":[1972.7,2023.3],"nice":false,"zero":false},"axis":{"values":[1975,1985,1995,2005,2015],"labels":false,"ticks":false,"gridWidth":0.7,"title":null,"orient":"bottom"}},
      "y":{"field":"e","type":"quantitative","scale":{"domain":[-0.0229,0.4809],"nice":false,"zero":false},"axis":{"values":[0.05,0.15,0.25,0.35,0.45],"labels":false,"ticks":false,"gridWidth":0.7,"title":null,"orient":"left"}}}},
    {"transform":[{"fold":["a","b","c","d","e"],"as":["k","F"]},{"lookup":"k","from":{"data":{"name":"models"},"key":"k","fields":["model"]}}],
     "mark":{"type":"line","strokeWidth":2.4},"encoding":{
      "x":{"field":"x","type":"quantitative","scale":{"domain":[1972.7,2023.3],"nice":false,"zero":false},"axis":{"values":[1980,1990,2000,2010,2020],"labels":false,"ticks":false,"gridWidth":1.4,"title":null,"orient":"bottom"}},
      "y":{"field":"F","type":"quantitative","scale":{"domain":[-0.0229,0.4809],"nice":false,"zero":false},"axis":{"values":[0,0.1,0.2,0.3,0.4],"labels":false,"ticks":false,"gridWidth":1.4,"title":null,"orient":"left"}},
      "color":{"field":"model","type":"nominal"}}},
    {"data":{"values":[{"lab":"Trawl bycatch"}]},"layer":[
      {"mark":{"type":"rect","fill":"#D9D9D9","stroke":"#333333","strokeWidth":1.3},"encoding":{"x":{"field":"lab","type":"nominal","scale":{"type":"band","range":[251,294],"paddingInner":0,"paddingOuter":0},"axis":null}}},
      {"mark":{"type":"text","fontSize":21,"color":"#1A1A1A","angle":90,"limit":143,"ellipsis":""},"encoding":{"x":{"field":"lab","type":"nominal","scale":{"type":"band","range":[251,294],"paddingInner":0,"paddingOuter":0},"axis":null},"text":{"field":"lab"}}}]}
   ],
   "resolve":{"scale":{"x":"independent","y":"independent"}}},

  {"width":251,"height":145,"data":{"name":"empty"},
   "layer":[
    {"mark":{"type":"point","opacity":0},"encoding":{
      "x":{"field":"x","type":"quantitative","scale":{"domain":[1972.7,2023.3],"nice":false,"zero":false},"axis":{"values":[1975,1985,1995,2005,2015],"labels":false,"ticks":false,"gridWidth":0.7,"title":null,"orient":"bottom"}},
      "y":{"field":"e","type":"quantitative","scale":{"domain":[-0.0212,0.4462],"nice":false,"zero":false},"axis":{"values":[0.05,0.15,0.25,0.35],"labels":false,"ticks":false,"gridWidth":0.7,"title":null,"orient":"left"}}}},
    {"mark":{"type":"point","opacity":0},"encoding":{
      "x":{"field":"x","type":"quantitative","scale":{"domain":[1972.7,2023.3],"nice":false,"zero":false},"axis":{"values":[1980,1990,2000,2010,2020],"labels":false,"ticks":false,"gridWidth":1.4,"title":null,"orient":"bottom"}},
      "y":{"field":"e","type":"quantitative","scale":{"domain":[-0.0212,0.4462],"nice":false,"zero":false},"axis":{"values":[0,0.1,0.2,0.3,0.4],"format":".1f","labelOverlap":false,"gridWidth":1.4,"title":null,"orient":"left"}}}}
   ],
   "resolve":{"scale":{"x":"independent","y":"independent"}}},
  {"width":251,"height":145,"data":{"name":"empty"},
   "layer":[
    {"mark":{"type":"point","opacity":0},"encoding":{
      "x":{"field":"x","type":"quantitative","scale":{"domain":[1972.7,2023.3],"nice":false,"zero":false},"axis":{"values":[1975,1985,1995,2005,2015],"labels":false,"ticks":false,"gridWidth":0.7,"title":null,"orient":"bottom"}},
      "y":{"field":"e","type":"quantitative","scale":{"domain":[-0.0212,0.4462],"nice":false,"zero":false},"axis":{"values":[0.05,0.15,0.25,0.35],"labels":false,"ticks":false,"gridWidth":0.7,"title":null,"orient":"left"}}}},
    {"mark":{"type":"point","opacity":0},"encoding":{
      "x":{"field":"x","type":"quantitative","scale":{"domain":[1972.7,2023.3],"nice":false,"zero":false},"axis":{"values":[1980,1990,2000,2010,2020],"labels":false,"ticks":false,"gridWidth":1.4,"title":null,"orient":"bottom"}},
      "y":{"field":"e","type":"quantitative","scale":{"domain":[-0.0212,0.4462],"nice":false,"zero":false},"axis":{"values":[0,0.1,0.2,0.3,0.4],"labels":false,"ticks":false,"gridWidth":1.4,"title":null,"orient":"left"}}}}
   ],
   "resolve":{"scale":{"x":"independent","y":"independent"}}},
  {"width":251,"height":145,"data":{"name":"s5f_tanner"},
   "layer":[
    {"mark":{"type":"point","opacity":0},"encoding":{
      "x":{"field":"x","type":"quantitative","scale":{"domain":[1972.7,2023.3],"nice":false,"zero":false},"axis":{"values":[1975,1985,1995,2005,2015],"labels":false,"ticks":false,"gridWidth":0.7,"title":null,"orient":"bottom"}},
      "y":{"field":"e","type":"quantitative","scale":{"domain":[-0.0212,0.4462],"nice":false,"zero":false},"axis":{"values":[0.05,0.15,0.25,0.35],"labels":false,"ticks":false,"gridWidth":0.7,"title":null,"orient":"left"}}}},
    {"transform":[{"fold":["a","b","c","d","e"],"as":["k","F"]},{"lookup":"k","from":{"data":{"name":"models"},"key":"k","fields":["model"]}}],
     "mark":{"type":"line","strokeWidth":2.4},"encoding":{
      "x":{"field":"x","type":"quantitative","scale":{"domain":[1972.7,2023.3],"nice":false,"zero":false},"axis":{"values":[1980,1990,2000,2010,2020],"labels":false,"ticks":false,"gridWidth":1.4,"title":null,"orient":"bottom"}},
      "y":{"field":"F","type":"quantitative","scale":{"domain":[-0.0212,0.4462],"nice":false,"zero":false},"axis":{"values":[0,0.1,0.2,0.3,0.4],"labels":false,"ticks":false,"gridWidth":1.4,"title":null,"orient":"left"}},
      "color":{"field":"model","type":"nominal"}}}
   ],
   "resolve":{"scale":{"x":"independent","y":"independent"}}},
  {"width":251,"height":145,"data":{"name":"s5m_tanner"},
   "layer":[
    {"mark":{"type":"point","opacity":0},"encoding":{
      "x":{"field":"x","type":"quantitative","scale":{"domain":[1972.7,2023.3],"nice":false,"zero":false},"axis":{"values":[1975,1985,1995,2005,2015],"labels":false,"ticks":false,"gridWidth":0.7,"title":null,"orient":"bottom"}},
      "y":{"field":"e","type":"quantitative","scale":{"domain":[-0.0212,0.4462],"nice":false,"zero":false},"axis":{"values":[0.05,0.15,0.25,0.35],"labels":false,"ticks":false,"gridWidth":0.7,"title":null,"orient":"left"}}}},
    {"transform":[{"fold":["a","b","c","d","e"],"as":["k","F"]},{"lookup":"k","from":{"data":{"name":"models"},"key":"k","fields":["model"]}}],
     "mark":{"type":"line","strokeWidth":2.4},"encoding":{
      "x":{"field":"x","type":"quantitative","scale":{"domain":[1972.7,2023.3],"nice":false,"zero":false},"axis":{"values":[1980,1990,2000,2010,2020],"labels":false,"ticks":false,"gridWidth":1.4,"title":null,"orient":"bottom"}},
      "y":{"field":"F","type":"quantitative","scale":{"domain":[-0.0212,0.4462],"nice":false,"zero":false},"axis":{"values":[0,0.1,0.2,0.3,0.4],"labels":false,"ticks":false,"gridWidth":1.4,"title":null,"orient":"left"}},
      "color":{"field":"model","type":"nominal"}}},
    {"data":{"values":[{"lab":"Tanner bycatch"}]},"layer":[
      {"mark":{"type":"rect","fill":"#D9D9D9","stroke":"#333333","strokeWidth":1.3},"encoding":{"x":{"field":"lab","type":"nominal","scale":{"type":"band","range":[251,294],"paddingInner":0,"paddingOuter":0},"axis":null}}},
      {"mark":{"type":"text","fontSize":21,"color":"#1A1A1A","angle":90,"limit":143,"ellipsis":""},"encoding":{"x":{"field":"lab","type":"nominal","scale":{"type":"band","range":[251,294],"paddingInner":0,"paddingOuter":0},"axis":null},"text":{"field":"lab"}}}]}
   ],
   "resolve":{"scale":{"x":"independent","y":"independent"}}},

  {"width":251,"height":145,"data":{"name":"empty"},
   "layer":[
    {"mark":{"type":"point","opacity":0},"encoding":{
      "x":{"field":"x","type":"quantitative","scale":{"domain":[1972.7,2023.3],"nice":false,"zero":false},"axis":{"values":[1975,1985,1995,2005,2015],"labels":false,"ticks":false,"gridWidth":0.7,"title":null,"orient":"bottom"}},
      "y":{"field":"e","type":"quantitative","scale":{"domain":[-0.00076,0.01596],"nice":false,"zero":false},"axis":{"values":[0.0025,0.0075,0.0125],"labels":false,"ticks":false,"gridWidth":0.7,"title":null,"orient":"left"}}}},
    {"mark":{"type":"point","opacity":0},"encoding":{
      "x":{"field":"x","type":"quantitative","scale":{"domain":[1972.7,2023.3],"nice":false,"zero":false},"axis":{"values":[1980,1990,2000,2010,2020],"format":"d","labelOverlap":false,"labelFlush":false,"gridWidth":1.4,"title":null,"orient":"bottom"}},
      "y":{"field":"e","type":"quantitative","scale":{"domain":[-0.00076,0.01596],"nice":false,"zero":false},"axis":{"values":[0,0.005,0.01,0.015],"format":".3f","labelOverlap":false,"gridWidth":1.4,"title":null,"orient":"left"}}}}
   ],
   "resolve":{"scale":{"x":"independent","y":"independent"}}},
  {"width":251,"height":145,"data":{"name":"empty"},
   "layer":[
    {"mark":{"type":"point","opacity":0},"encoding":{
      "x":{"field":"x","type":"quantitative","scale":{"domain":[1972.7,2023.3],"nice":false,"zero":false},"axis":{"values":[1975,1985,1995,2005,2015],"labels":false,"ticks":false,"gridWidth":0.7,"title":null,"orient":"bottom"}},
      "y":{"field":"e","type":"quantitative","scale":{"domain":[-0.00076,0.01596],"nice":false,"zero":false},"axis":{"values":[0.0025,0.0075,0.0125],"labels":false,"ticks":false,"gridWidth":0.7,"title":null,"orient":"left"}}}},
    {"mark":{"type":"point","opacity":0},"encoding":{
      "x":{"field":"x","type":"quantitative","scale":{"domain":[1972.7,2023.3],"nice":false,"zero":false},"axis":{"values":[1980,1990,2000,2010,2020],"format":"d","labelOverlap":false,"labelFlush":false,"gridWidth":1.4,"orient":"bottom","title":"Year","titleX":259,"titleY":83,"titleFontSize":26,"titleFontWeight":"normal","titleColor":"#000000","titleBaseline":"middle","titleAlign":"center"}},
      "y":{"field":"e","type":"quantitative","scale":{"domain":[-0.00076,0.01596],"nice":false,"zero":false},"axis":{"values":[0,0.005,0.01,0.015],"labels":false,"ticks":false,"gridWidth":1.4,"title":null,"orient":"left"}}}}
   ],
   "resolve":{"scale":{"x":"independent","y":"independent"}}},
  {"width":251,"height":145,"data":{"name":"s5f_fixed"},
   "layer":[
    {"mark":{"type":"point","opacity":0},"encoding":{
      "x":{"field":"x","type":"quantitative","scale":{"domain":[1972.7,2023.3],"nice":false,"zero":false},"axis":{"values":[1975,1985,1995,2005,2015],"labels":false,"ticks":false,"gridWidth":0.7,"title":null,"orient":"bottom"}},
      "y":{"field":"e","type":"quantitative","scale":{"domain":[-0.00076,0.01596],"nice":false,"zero":false},"axis":{"values":[0.0025,0.0075,0.0125],"labels":false,"ticks":false,"gridWidth":0.7,"title":null,"orient":"left"}}}},
    {"transform":[{"fold":["a","b","c","d","e"],"as":["k","F"]},{"lookup":"k","from":{"data":{"name":"models"},"key":"k","fields":["model"]}}],
     "mark":{"type":"line","strokeWidth":2.4},"encoding":{
      "x":{"field":"x","type":"quantitative","scale":{"domain":[1972.7,2023.3],"nice":false,"zero":false},"axis":{"values":[1980,1990,2000,2010,2020],"format":"d","labelOverlap":false,"labelFlush":false,"gridWidth":1.4,"title":null,"orient":"bottom"}},
      "y":{"field":"F","type":"quantitative","scale":{"domain":[-0.00076,0.01596],"nice":false,"zero":false},"axis":{"values":[0,0.005,0.01,0.015],"labels":false,"ticks":false,"gridWidth":1.4,"title":null,"orient":"left"}},
      "color":{"field":"model","type":"nominal"}}}
   ],
   "resolve":{"scale":{"x":"independent","y":"independent"}}},
  {"width":251,"height":145,"data":{"name":"s5m_fixed"},
   "layer":[
    {"mark":{"type":"point","opacity":0},"encoding":{
      "x":{"field":"x","type":"quantitative","scale":{"domain":[1972.7,2023.3],"nice":false,"zero":false},"axis":{"values":[1975,1985,1995,2005,2015],"labels":false,"ticks":false,"gridWidth":0.7,"title":null,"orient":"bottom"}},
      "y":{"field":"e","type":"quantitative","scale":{"domain":[-0.00076,0.01596],"nice":false,"zero":false},"axis":{"values":[0.0025,0.0075,0.0125],"labels":false,"ticks":false,"gridWidth":0.7,"title":null,"orient":"left"}}}},
    {"transform":[{"fold":["a","b","c","d","e"],"as":["k","F"]},{"lookup":"k","from":{"data":{"name":"models"},"key":"k","fields":["model"]}}],
     "mark":{"type":"line","strokeWidth":2.4},"encoding":{
      "x":{"field":"x","type":"quantitative","scale":{"domain":[1972.7,2023.3],"nice":false,"zero":false},"axis":{"values":[1980,1990,2000,2010,2020],"format":"d","labelOverlap":false,"labelFlush":false,"gridWidth":1.4,"title":null,"orient":"bottom"}},
      "y":{"field":"F","type":"quantitative","scale":{"domain":[-0.00076,0.01596],"nice":false,"zero":false},"axis":{"values":[0,0.005,0.01,0.015],"labels":false,"ticks":false,"gridWidth":1.4,"title":null,"orient":"left"}},
      "color":{"field":"model","type":"nominal"}}},
    {"data":{"values":[{"lab":"Fixed bycatch"}]},"layer":[
      {"mark":{"type":"rect","fill":"#D9D9D9","stroke":"#333333","strokeWidth":1.3},"encoding":{"x":{"field":"lab","type":"nominal","scale":{"type":"band","range":[251,294],"paddingInner":0,"paddingOuter":0},"axis":null}}},
      {"mark":{"type":"text","fontSize":21,"color":"#1A1A1A","angle":90,"limit":143,"ellipsis":""},"encoding":{"x":{"field":"lab","type":"nominal","scale":{"type":"band","range":[251,294],"paddingInner":0,"paddingOuter":0},"axis":null},"text":{"field":"lab"}}}]}
   ],
   "resolve":{"scale":{"x":"independent","y":"independent"}}}
]
}
